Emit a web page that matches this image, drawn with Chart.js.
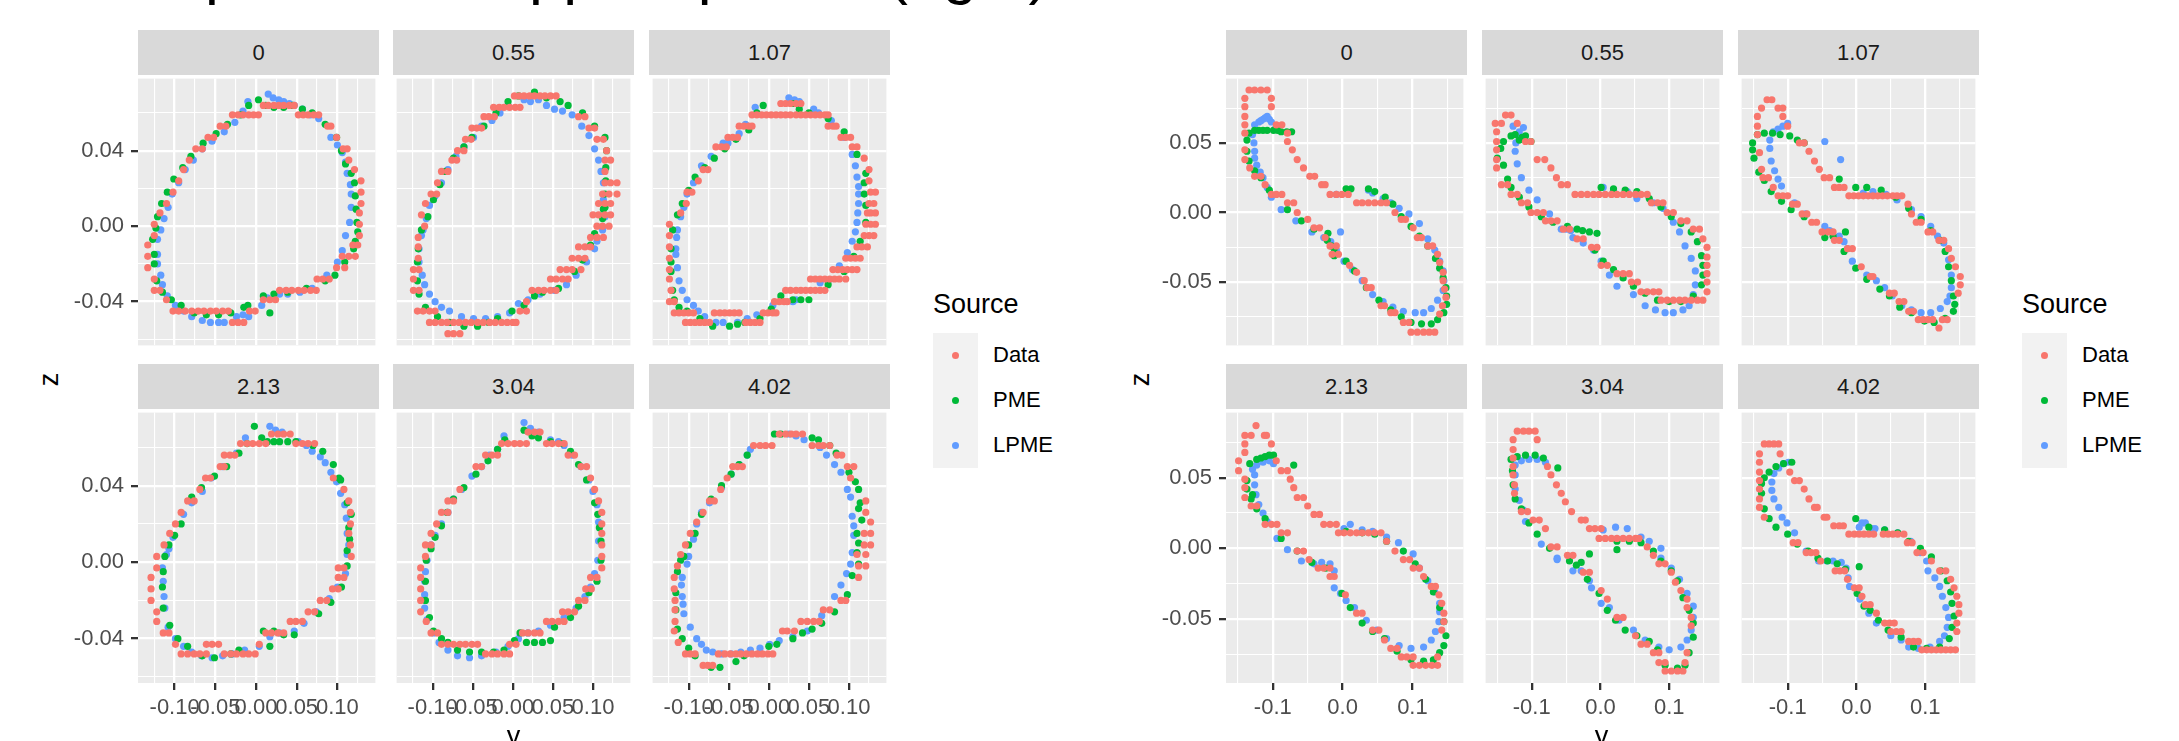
<!DOCTYPE html>
<html>
<head>
<meta charset="utf-8">
<script src="https://cdn.jsdelivr.net/npm/chart.js@4.4.1/dist/chart.umd.min.js"></script>
<style>
html, body { margin: 0; padding: 0; background: #fff; }
#page { position: relative; width: 2179px; height: 741px; overflow: hidden; font-family: "Liberation Sans", Arial, sans-serif; }
.strip { position: absolute; height: 45px; line-height: 45px; background: #D9D9D9; color: #1A1A1A; font-size: 22px; text-align: center; }
.lab { position: absolute; white-space: nowrap; color: #000; }
.keybox { position: absolute; width: 45px; height: 135px; background: #F2F2F2; }
.dot { position: absolute; width: 7px; height: 7px; border-radius: 50%; }
canvas { position: absolute; }
</style>
</head>
<body>
<div id="page"></div>
<script>
// --- categories / labels ---
const PANEL_LABELS = ['0', '0.55', '1.07', '2.13', '3.04', '4.02'];
const SOURCES = ['Data', 'PME', 'LPME'];
const COLORS = ['#F8766D', '#00BA38', '#619CFF'];

// --- tick values ---
const LEFT_X_MAJOR = [-0.1, -0.05, 0, 0.05, 0.1];
const LEFT_X_MINOR = [-0.125, -0.075, -0.025, 0.025, 0.075, 0.125];
const LEFT_Z_MAJOR = [-0.04, 0, 0.04];
const LEFT_Z_MINOR = [-0.06, -0.02, 0.02, 0.06];
const RIGHT_X_MAJOR = [-0.1, 0, 0.1];
const RIGHT_X_MINOR = [-0.15, -0.05, 0.05, 0.15];
const RIGHT_Z_MAJOR = [-0.05, 0, 0.05];
const RIGHT_Z_MINOR = [-0.075, -0.025, 0.025, 0.075];
const LEFT_X_RANGE = [-0.145, 0.1467];
const LEFT_Z_RANGE = [-0.0632, 0.0782];
const RIGHT_X_RANGE = [-0.167, 0.173];
const RIGHT_Z_RANGE = [-0.0955, 0.0962];

// --- points, in thousandths, flat pairs y,z ---
// left group
const L0_DATA = [9,64,15,64,22,64,28,64,34,64,41,64,47,64,-29,59,-22,59,-16,59,-9,59,-3,59,3,59,52,59,58,59,64,59,71,59,77,59,-44,53,-37,53,88,53,92,53,-59,47,-52,47,99,47,-74,41,-66,41,107,41,112,41,-82,35,114,35,-89,30,121,30,-95,24,129,24,-102,18,129,18,-110,12,129,12,-118,7,127,7,-125,1,127,1,-125,-5,127,-5,-133,-10,119,-10,125,-10,-133,-16,106,-16,114,-16,122,-16,-133,-22,99,-22,109,-22,-125,-28,75,-28,82,-28,90,-28,-125,-34,-118,-34,29,-34,37,-34,44,-34,52,-34,59,-34,67,-34,74,-34,-110,-39,9,-39,17,-39,24,-39,-102,-45,-95,-45,-87,-45,-79,-45,-71,-45,-64,-45,-56,-45,-49,-45,-41,-45,-34,-45,-8,-45,-1,-45,-29,-51,-22,-51,-15,-51];
const L0_PME = [3,67,-9,64,-19,59,-35,54,-49,49,-65,44,-80,37,-90,31,-101,25,-109,18,-116,12,-121,5,-123,-1,-127,-7,-125,-15,-125,-20,-122,-29,-115,-35,-104,-39,-92,-42,-76,-46,-61,-47,-46,-47,-31,-46,-15,-43,-10,-42,17,-46,9,-37,22,-36,39,-35,62,-33,85,-29,97,-26,109,-19,120,-12,122,-8,125,-3,124,2,123,9,122,16,121,23,117,28,110,33,105,40,99,47,85,54,69,60,57,62,45,64,34,63,22,63,12,64];
const L0_LPME = [15,70,21,68,28,67,34,66,41,65,47,64,-10,66,-16,61,-26,55,-39,50,-54,45,-66,41,-77,35,-87,30,-95,23,-103,17,-108,10,-113,4,-117,-2,-121,-7,-121,-15,-121,-20,-117,-26,-115,-31,-109,-37,-99,-42,-89,-45,-79,-48,-66,-50,-56,-51,-46,-51,-39,-51,-24,-48,-16,-47,-9,-48,7,-42,14,-38,29,-36,39,-36,54,-35,69,-33,87,-26,100,-19,106,-13,110,-5,115,2,117,10,117,17,116,22,112,28,110,34,106,39,100,43,92,47,77,57,67,59,57,62];
const L1_DATA = [2,69,8,69,14,69,21,69,27,69,34,69,40,69,47,69,54,69,-24,63,-17,63,-11,63,-4,63,3,63,9,63,-36,58,-30,58,-23,58,82,58,90,58,-51,52,-45,52,-39,52,95,52,102,52,-59,46,-52,46,105,46,113,46,-69,40,-61,40,117,40,-76,35,-70,35,115,35,122,35,-89,29,-81,29,115,29,-94,23,115,23,122,23,130,23,-102,17,-95,17,112,17,120,17,130,17,-109,12,107,12,115,12,122,12,-114,6,100,6,107,6,115,6,122,6,-110,0,105,0,112,0,120,0,-118,-6,97,-6,105,-6,113,-6,-118,-11,82,-11,90,-11,97,-11,-118,-17,74,-17,82,-17,90,-17,-124,-23,-117,-23,59,-23,67,-23,74,-23,85,-23,-124,-28,47,-28,54,-28,62,-28,69,-28,-124,-34,-117,-34,24,-34,32,-34,39,-34,47,-34,54,-34,17,-40,-119,-45,-112,-45,-104,-45,-97,-45,9,-45,17,-45,-104,-51,-97,-51,-89,-51,-82,-51,-74,-51,-67,-51,-59,-51,-52,-51,-44,-51,-37,-51,-29,-51,-22,-51,-14,-51,-7,-51,0,-51,4,-51,-81,-57,-74,-57,-66,-57];
const L1_PME = [27,71,42,68,59,66,69,64,87,60,102,53,115,47,117,40,116,31,116,24,115,17,115,10,113,9,112,4,102,-4,97,-10,87,-18,77,-24,57,-33,37,-35,27,-37,14,-42,-1,-45,-19,-49,-30,-51,-44,-53,-61,-53,-79,-51,-94,-48,-109,-43,-117,-36,-119,-29,-119,-19,-118,-12,-114,-2,-106,5,-99,14,-91,22,-84,29,-74,36,-61,42,-51,47,-36,53,-21,60,-6,66,7,69];
const L1_LPME = [32,67,42,64,52,62,62,61,74,59,86,53,95,48,102,41,107,35,110,29,113,23,113,14,115,5,112,-2,105,-8,102,-12,92,-19,79,-26,67,-31,52,-34,34,-36,19,-39,7,-41,-4,-46,-19,-48,-34,-49,-49,-49,-64,-48,-79,-45,-89,-43,-97,-40,-104,-36,-110,-31,-113,-26,-117,-19,-117,-12,-114,-5,-112,-2,-108,4,-104,11,-97,16,-89,23,-81,30,-71,37,-61,42,-49,47,-39,53,-26,56,-16,60,-6,64,14,67,22,66];
const L2_DATA = [15,65,21,65,27,65,34,65,40,65,-21,59,-15,59,-9,59,-3,59,3,59,9,59,15,59,21,59,27,59,34,59,40,59,46,59,52,59,58,59,64,59,70,59,74,59,-37,53,-31,53,-25,53,-21,53,74,53,80,53,84,53,-51,47,-45,47,-39,47,90,47,96,47,102,47,-66,42,-59,42,-53,42,104,42,110,42,119,36,-82,30,-76,30,125,30,-88,24,125,24,-102,18,-96,18,127,18,133,18,-103,12,125,12,131,12,-110,7,123,7,127,7,133,7,-124,1,121,1,127,1,133,1,-124,-5,119,-5,125,-5,131,-5,-124,-11,110,-11,116,-11,123,-11,-124,-17,96,-17,102,-17,108,-17,114,-17,-124,-23,80,-23,86,-23,92,-23,98,-23,104,-23,110,-23,-124,-28,52,-28,58,-28,64,-28,70,-28,76,-28,82,-28,88,-28,96,-28,-122,-34,21,-34,27,-34,34,-34,40,-34,46,-34,52,-34,58,-34,64,-34,70,-34,-124,-40,-118,-40,7,-40,13,-40,19,-40,23,-40,-118,-46,-112,-46,-106,-46,-100,-46,-94,-46,-68,-46,-61,-46,-55,-46,-49,-46,-43,-46,-37,-46,-7,-46,-1,-46,5,-46,9,-46,-104,-51,-98,-51,-92,-51,-86,-51,-80,-51,-74,-51,-29,-51,-23,-51,-17,-51,-11,-51];
const L2_PME = [-7,64,-15,60,-25,51,-41,46,-55,41,-68,36,-80,31,-92,26,-100,19,-108,12,-114,6,-120,-2,-122,-12,-122,-19,-122,-24,-120,-34,-118,-39,-112,-43,-102,-45,-86,-49,-70,-53,-49,-53,-39,-52,-30,-51,-11,-49,3,-44,15,-37,30,-39,40,-39,50,-39,74,-31,94,-24,106,-16,114,-8,121,2,121,11,119,17,119,23,121,28,110,38,94,50,74,57,50,60,38,62,30,65];
const L2_LPME = [25,68,32,67,38,66,56,62,62,60,78,56,94,47,104,38,108,32,110,26,112,21,112,17,112,12,111,7,110,2,108,-3,104,-8,98,-14,88,-21,74,-29,64,-30,34,-39,30,-40,5,-42,-15,-47,-27,-49,-39,-51,-57,-51,-66,-51,-80,-48,-88,-45,-94,-42,-102,-39,-108,-34,-112,-29,-114,-22,-116,-15,-116,-12,-115,-6,-114,-2,-110,5,-106,10,-102,17,-94,23,-84,32,-72,37,-57,44,-51,44,-37,49,-29,54,-17,63];
const L3_DATA = [19,67,27,67,34,67,42,67,-19,62,-11,62,-4,62,4,62,12,62,49,62,57,62,64,62,72,62,-39,56,-32,56,-26,56,-44,50,-39,50,-62,44,-56,44,95,44,-69,38,108,38,-84,32,-76,32,114,32,-92,26,116,26,-99,20,116,20,-106,15,114,15,-113,9,116,9,-122,3,117,3,-122,-3,101,-3,108,-3,-129,-8,101,-8,108,-8,-129,-14,94,-14,101,-14,-129,-20,79,-20,87,-20,-122,-26,64,-26,72,-26,-122,-31,42,-31,49,-31,57,-31,-114,-37,-107,-37,12,-37,19,-37,27,-37,34,-37,-99,-43,-61,-43,-54,-43,-46,-43,4,-43,-92,-48,-84,-48,-76,-48,-69,-48,-61,-48,-39,-48,-31,-48,-24,-48,-16,-48,-9,-48,-1,-48];
const L3_PME = [-2,71,7,65,14,63,22,63,29,63,39,63,49,63,70,61,82,58,95,51,102,44,104,43,112,31,117,25,114,18,115,12,112,6,112,-2,105,-13,92,-21,77,-27,47,-38,34,-38,22,-36,17,-44,9,-36,-21,-46,-31,-48,-51,-50,-66,-49,-84,-44,-96,-40,-106,-33,-114,-24,-115,-13,-114,-5,-112,3,-107,9,-100,14,-92,20,-79,34,-67,39,-51,45,-36,50,-21,57,-11,62];
const L3_LPME = [17,71,24,69,32,68,52,63,62,61,69,58,79,55,85,52,92,47,99,42,104,36,109,30,111,23,112,15,114,9,112,4,110,-6,100,-13,90,-19,74,-26,59,-32,47,-36,29,-37,17,-39,4,-44,-14,-46,-29,-48,-41,-49,-54,-50,-67,-49,-79,-47,-89,-44,-99,-40,-108,-34,-112,-24,-113,-18,-114,-10,-115,-3,-110,4,-107,7,-102,13,-89,25,-79,31,-66,37,-55,44,-41,50,-24,57,-13,65];
const L4_DATA = [19,68,27,68,34,68,-14,62,-6,62,2,62,9,62,17,62,42,62,49,62,57,62,64,62,-34,56,-26,56,-19,56,69,56,77,56,-46,50,-39,50,85,50,92,50,97,44,-66,38,102,38,-81,32,-74,32,107,32,-89,26,-81,26,111,26,-95,20,111,20,-102,15,111,15,-102,9,-109,9,111,9,-109,3,111,3,-115,-3,111,-3,-115,-8,97,-8,105,-8,-115,-14,91,-14,98,-14,-115,-20,82,-20,90,-20,-115,-26,62,-26,69,-26,77,-26,-108,-31,42,-31,49,-31,57,-31,64,-31,-102,-37,-94,-37,12,-37,19,-37,27,-37,34,-37,-89,-43,-81,-43,-74,-43,-66,-43,-59,-43,-51,-43,-44,-43,-4,-43,4,-43,-34,-48,-26,-48,-19,-48,-11,-48,-4,-48];
const L4_PME = [14,69,24,66,32,65,47,63,62,62,72,58,82,51,92,43,102,31,106,25,108,18,110,11,110,1,105,-10,95,-16,82,-23,72,-29,52,-34,47,-41,37,-42,27,-42,17,-42,9,-37,2,-41,-11,-46,-24,-47,-39,-47,-54,-47,-69,-46,-81,-42,-89,-40,-99,-36,-104,-29,-109,-20,-109,-10,-108,1,-102,7,-97,13,-89,19,-82,26,-74,33,-61,39,-46,46,-31,53,-19,59,-10,64];
const L4_LPME = [14,73,22,70,32,68,47,64,57,63,64,61,74,56,85,50,95,43,100,37,105,30,107,21,107,11,106,1,102,-6,97,-13,90,-18,79,-24,64,-29,47,-33,32,-36,19,-37,7,-40,-6,-44,-21,-47,-39,-49,-54,-50,-69,-49,-81,-46,-92,-42,-99,-37,-107,-30,-110,-24,-110,-17,-110,-10,-109,-5,-107,1,-102,9,-97,14,-89,20,-81,26,-74,33,-64,38,-51,45,-39,50,-29,56,-19,59,-11,66];
const L5_DATA = [13,67,21,67,28,67,34,67,42,67,-19,61,-11,61,-4,61,4,61,54,61,62,61,68,61,76,61,85,56,91,56,-45,50,-39,50,-33,50,98,50,106,50,-52,44,102,44,-60,38,-74,32,-68,32,121,32,-82,26,121,26,-90,21,127,21,-98,15,119,15,127,15,-104,9,119,9,127,9,-110,4,110,4,121,4,-114,-2,112,-2,121,-2,-118,-8,112,-8,-118,-14,-117,-20,90,-20,96,-20,-117,-25,68,-25,76,-25,-117,-31,40,-31,48,-31,56,-31,63,-31,-118,-36,17,-36,23,-36,32,-36,-113,-42,-104,-48,-98,-48,-92,-48,-63,-48,-55,-48,-48,-48,-41,-48,-35,-48,-28,-48,-21,-48,-14,-48,-8,-48,-1,-48,5,-48,-82,-54,-76,-54,-70,-54];
const L5_PME = [7,67,15,67,54,65,62,64,76,61,84,57,100,47,108,42,112,38,114,31,112,28,116,22,110,15,112,10,110,5,112,-1,104,-7,98,-17,82,-26,66,-32,54,-35,42,-37,30,-40,10,-43,0,-44,-31,-49,-41,-52,-61,-55,-72,-55,-92,-49,-100,-45,-108,-40,-114,-35,-116,-25,-116,-16,-114,-5,-110,1,-106,3,-100,9,-92,15,-84,25,-72,33,-59,40,-47,46,-37,51,-27,56];
const L5_LPME = [25,67,34,66,44,64,64,60,72,56,82,51,90,47,98,38,102,34,104,24,106,19,106,14,104,5,102,-1,97,-6,90,-12,82,-18,66,-28,48,-36,30,-39,13,-41,1,-43,-11,-45,-23,-46,-35,-47,-47,-48,-59,-48,-70,-47,-78,-46,-84,-43,-90,-40,-98,-34,-106,-27,-107,-22,-108,-18,-109,-12,-108,-8,-102,-1,-100,3,-94,12,-90,20,-84,26,-74,31,-59,39,-47,46,-37,51,-27,56,-23,59];

// right group
const R0_DATA = [-134,88,-126,88,-117,88,-108,88,-140,82,-102,82,-140,76,-102,76,-140,69,-140,63,-95,63,-87,63,-140,57,-79,57,-79,51,-140,45,-72,45,-140,38,-65,38,-133,32,-56,32,-126,26,-117,26,-47,26,-40,26,-111,20,-30,20,-25,20,-102,13,-95,13,-87,13,-18,13,-9,13,-1,13,8,13,-79,7,-70,7,20,7,28,7,37,7,46,7,55,7,63,7,-65,0,75,0,-50,-5,84,-5,90,-5,-41,-11,-33,-11,101,-11,-25,-18,107,-18,113,-18,-18,-24,-9,-24,122,-24,129,-24,-15,-30,-6,-30,136,-30,139,-36,10,-38,20,-43,144,-43,31,-49,144,-49,35,-54,41,-54,146,-55,148,-61,55,-67,60,-67,143,-67,69,-72,75,-72,139,-73,87,-79,95,-79,98,-86,107,-86,116,-86,124,-86,132,-86];
const R0_PME = [-137,52,-134,57,-126,59,-120,59,-114,59,-108,59,-99,59,-93,59,-88,58,-80,58,-73,58,-137,44,-134,37,-126,30,-117,25,-105,16,-79,2,-59,-6,-41,-12,-21,-15,-22,-20,-16,-24,-12,-26,-12,-31,5,-35,17,-42,34,-54,52,-63,69,-70,84,-75,98,-79,113,-80,127,-80,136,-77,145,-72,149,-66,149,-60,148,-54,144,-47,139,-40,133,-33,122,-24,110,-17,98,-10,84,-3,72,6,61,11,46,15,37,17,12,17,5,17];
const R0_LPME = [-129,56,-126,63,-120,65,-117,66,-114,67,-111,68,-108,69,-105,67,-102,65,-97,60,-127,50,-126,44,-126,39,-123,34,-118,29,-114,25,-108,18,-102,11,-88,2,-67,-6,-44,-14,-27,-18,-17,-21,-3,-14,-9,-27,2,-35,14,-41,28,-49,43,-59,58,-64,72,-68,87,-71,104,-72,116,-72,127,-69,136,-63,144,-56,145,-49,144,-42,139,-35,132,-27,122,-19,110,-8,95,-1,81,3,69,7,58,10,43,14,37,16,-9,13];
const R1_DATA = [-138,70,-130,70,-153,64,-144,64,-121,64,-151,58,-151,51,-109,51,-101,51,-151,45,-151,38,-92,38,-81,38,-151,32,-72,32,-64,25,-144,20,-135,20,-57,20,-48,20,-130,13,-121,13,-37,13,-28,13,-19,13,-10,13,-2,13,7,13,16,13,24,13,33,13,42,13,51,13,59,13,68,13,-115,7,-106,7,74,7,83,7,91,7,-101,0,-92,0,-83,0,97,0,106,0,-80,-6,-72,-6,-63,-6,117,-6,126,-6,-54,-12,-45,-12,135,-12,144,-12,-34,-19,-25,-19,149,-19,-13,-25,-5,-25,155,-25,155,-32,1,-38,10,-38,155,-38,24,-44,33,-44,42,-44,155,-44,45,-50,54,-50,155,-50,59,-57,68,-57,77,-57,85,-57,155,-57,88,-63,97,-63,106,-63,115,-63,123,-63,132,-63,141,-63,149,-63];
const R1_PME = [-150,39,-145,46,-141,51,-130,55,-124,56,-118,52,-114,54,-109,55,-101,51,-141,34,-135,24,-130,18,-118,11,-104,4,-86,-3,-69,-7,-48,-10,-34,-12,-26,-13,-16,-14,-5,-15,-8,-27,4,-35,19,-41,33,-47,48,-53,65,-58,83,-63,100,-64,117,-64,135,-60,147,-52,149,-45,149,-38,147,-31,141,-21,132,-14,117,-8,103,-3,88,4,71,10,53,15,36,16,19,17,1,18];
const R1_LPME = [-127,62,-122,56,-118,58,-112,61,-123,50,-124,44,-121,35,-115,25,-104,16,-92,9,-74,-1,-57,-12,-50,-12,-43,-13,-40,-18,-25,-22,-10,-27,1,-35,13,-45,24,-53,48,-59,65,-67,80,-70,94,-72,106,-72,120,-70,129,-67,135,-59,138,-52,138,-42,132,-33,123,-24,115,-14,106,-7,91,3,77,7,53,10,39,15,19,16,4,18];
const R2_DATA = [-130,81,-123,81,-138,75,-114,75,-107,75,-144,69,-107,69,-144,62,-100,62,-144,56,-83,50,-76,50,-141,43,-69,44,-61,37,-138,31,-54,31,-136,25,-128,25,-47,25,-39,25,-121,18,-32,18,-25,18,-18,18,-114,12,-107,12,-100,12,-11,12,-4,12,3,12,10,12,17,12,24,12,31,12,38,12,45,12,53,12,59,12,66,12,-93,6,-86,6,75,6,-79,-1,-72,-1,80,-1,-65,-7,-58,-7,87,-7,94,-7,-50,-14,-41,-14,-34,-14,104,-14,111,-14,-32,-20,-25,-20,120,-20,127,-20,-13,-26,-6,-26,134,-26,138,-33,7,-39,144,-39,20,-46,24,-46,151,-46,151,-52,48,-58,55,-58,148,-58,62,-64,69,-64,76,-71,83,-71,90,-77,97,-77,104,-77,111,-77,125,-77,132,-77,120,-83];
const R2_PME = [-151,50,-151,45,-149,39,-142,29,-134,23,-124,15,-109,8,-95,2,-76,-3,-46,-18,-34,-17,-16,-14,-18,-28,-1,-40,15,-48,34,-55,48,-60,63,-68,80,-72,99,-78,113,-79,129,-76,141,-71,143,-66,141,-60,138,-49,134,-39,129,-28,122,-20,108,-13,94,-5,76,3,57,11,36,16,15,18,-1,18,-25,24,-144,56,-134,57,-122,57,-111,56,-97,55,-86,52,-76,50];
const R2_LPME = [-121,58,-114,60,-107,62,-100,64,-126,52,-126,46,-124,37,-119,30,-114,24,-109,19,-90,7,-74,-1,-46,-10,-39,-13,-25,-17,-18,-21,-13,-26,-6,-35,15,-45,29,-49,41,-54,52,-60,66,-67,80,-70,94,-72,108,-72,122,-69,132,-64,136,-60,138,-54,138,-45,134,-34,127,-22,118,-17,108,-10,94,-3,80,2,59,9,43,13,24,15,10,14,-46,51,-23,38];
const R3_DATA = [-124,87,-140,80,-131,80,-112,80,-109,80,-140,74,-102,74,-140,68,-149,62,-95,62,-149,55,-88,55,-79,55,-140,49,-75,49,-140,43,-70,43,-140,36,-65,36,-56,36,-131,30,-123,30,-50,30,-41,24,-33,24,-111,17,-102,17,-94,17,-27,17,-18,17,-9,17,-88,11,-79,11,-6,11,2,11,11,11,20,11,28,11,37,11,46,11,55,11,63,5,-65,-2,-56,-2,75,-2,-48,-8,87,-8,96,-8,-35,-14,-27,-14,-18,-14,101,-14,110,-14,-18,-20,-12,-20,116,-20,127,-27,133,-27,4,-33,138,-33,142,-39,20,-46,28,-46,145,-46,145,-52,43,-58,52,-58,142,-58,60,-65,69,-71,78,-71,84,-77,92,-77,101,-77,136,-77,101,-83,110,-83,119,-83,128,-83,136,-83];
const R3_PME = [-133,60,-123,63,-117,64,-111,65,-105,66,-99,66,-70,59,-137,48,-137,42,-129,38,-131,35,-123,28,-111,21,-88,7,-65,-2,-44,-10,-24,-14,-1,-32,11,-42,28,-53,43,-59,60,-64,78,-73,98,-79,116,-80,130,-79,139,-74,145,-69,148,-62,145,-52,139,-42,130,-31,119,-22,104,-11,87,-2,63,5,46,10,28,11,5,12];
const R3_LPME = [-129,56,-123,59,-114,61,-105,62,-99,60,-126,52,-126,45,-124,38,-120,31,-114,25,-108,19,-94,7,-79,-1,-59,-9,-41,-11,-30,-10,-18,-11,-12,-16,-12,-28,-3,-32,5,-37,17,-42,34,-51,49,-58,63,-64,81,-69,98,-71,116,-70,127,-65,133,-59,138,-52,139,-45,139,-39,132,-31,122,-23,110,-14,101,-4,80,4,63,8,43,12,28,13,11,17,2,14];
const R4_DATA = [-121,83,-112,83,-104,83,-95,83,-127,77,-92,77,-127,70,-127,64,-127,58,-77,58,-127,52,-72,52,-125,45,-64,45,-125,39,-57,39,-51,33,-115,26,-106,26,-42,26,-98,20,-89,20,-28,20,-22,20,-80,14,-16,14,-8,14,1,14,-2,7,7,7,16,7,24,7,33,7,42,7,51,7,56,7,-72,1,-63,1,68,1,-48,-5,-40,-5,77,-5,85,-11,94,-11,-25,-17,-16,-17,103,-17,109,-24,1,-30,117,-30,10,-36,126,-36,126,-42,24,-49,33,-49,132,-49,132,-55,51,-62,59,-68,68,-68,77,-74,85,-74,126,-74,85,-81,94,-81,123,-81,94,-87,103,-87,112,-87,120,-87];
const R4_PME = [-130,63,-121,65,-109,66,-95,66,-83,64,-62,57,-128,55,-127,45,-124,35,-115,28,-104,18,-92,10,-74,0,-45,-9,-35,-12,-28,-10,-16,-4,-19,-22,-2,-32,10,-44,22,-51,36,-58,53,-62,71,-66,83,-72,94,-83,112,-85,123,-83,129,-74,135,-63,135,-53,129,-44,120,-35,112,-23,103,-16,88,-9,77,-2,59,4,42,5,24,5,24,-1];
const R4_LPME = [-124,59,-115,62,-104,63,-92,63,-80,61,-124,52,-124,42,-118,34,-112,27,-109,19,-86,3,-63,-8,-63,-7,-40,-16,-28,-16,-16,-23,-13,-28,1,-39,13,-42,27,-51,48,-58,65,-65,85,-70,100,-72,117,-70,126,-65,132,-58,135,-49,135,-41,126,-32,115,-22,103,-14,88,-7,88,0,71,5,59,8,39,14,22,15,4,13];
const R5_DATA = [-134,74,-127,74,-120,74,-113,74,-141,67,-111,67,-141,61,-141,54,-97,54,-141,48,-90,48,-83,48,-141,42,-76,42,-141,35,-69,35,-141,29,-61,29,-57,29,-134,22,-47,22,-43,22,-33,16,-25,16,-19,16,-11,10,-3,10,4,10,11,10,18,10,25,10,39,10,46,10,53,10,60,10,69,10,-92,4,-85,4,74,4,81,4,-73,-3,-66,-3,-59,-3,88,-3,97,-3,-52,-9,109,-9,-31,-16,-24,-16,-17,-16,121,-16,130,-16,-13,-22,137,-22,-3,-28,4,-28,142,-28,8,-34,146,-34,13,-40,20,-40,149,-40,29,-46,149,-46,41,-53,48,-53,55,-53,146,-53,50,-59,58,-59,65,-59,146,-59,76,-66,83,-66,90,-66,95,-72,102,-72,109,-72,116,-72,123,-72,130,-72,137,-72,144,-72];
const R5_PME = [-138,46,-134,50,-127,54,-117,58,-106,60,-94,61,-138,39,-134,28,-127,21,-117,15,-100,10,-86,3,-70,-2,-56,-7,-42,-9,-28,-11,-16,-15,4,-13,1,-32,11,-41,20,-44,32,-51,46,-58,65,-63,83,-70,102,-71,121,-70,135,-64,139,-56,142,-48,139,-39,137,-31,132,-23,123,-16,109,-6,93,0,76,5,60,11,41,13,18,15,-1,21];
const R5_LPME = [-120,53,-113,57,-106,60,-99,61,-123,47,-123,41,-120,35,-113,29,-108,22,-101,18,-90,11,-73,-2,-55,-9,-43,-9,-34,-9,-22,-10,-15,-14,-12,-21,-10,-27,5,-36,18,-46,4,15,8,18,13,18,22,14,29,-53,50,-62,65,-65,76,-70,90,-71,107,-70,121,-66,128,-62,132,-56,134,-49,130,-42,125,-34,121,-27,114,-21,104,-16,102,-9,93,-3,79,5,60,11,41,13,27,14];

const LEFT_PANELS = [[L0_DATA, L0_PME, L0_LPME], [L1_DATA, L1_PME, L1_LPME], [L2_DATA, L2_PME, L2_LPME],
                     [L3_DATA, L3_PME, L3_LPME], [L4_DATA, L4_PME, L4_LPME], [L5_DATA, L5_PME, L5_LPME]];
const RIGHT_PANELS = [[R0_DATA, R0_PME, R0_LPME], [R1_DATA, R1_PME, R1_LPME], [R2_DATA, R2_PME, R2_LPME],
                      [R3_DATA, R3_PME, R3_LPME], [R4_DATA, R4_PME, R4_LPME], [R5_DATA, R5_PME, R5_LPME]];

// --- layout ---
const FONT = '"Liberation Sans", Arial, sans-serif';
const PLOT_W = 241, PLOT_H = 274, STRIP_H = 45;
const ROW_TOP = [75, 409];
const AX_W = 80, AX_H = 50;

const page = document.getElementById('page');

function addText(txt, left, top, size, extra) {
    const d = document.createElement('div');
    d.className = 'lab';
    d.textContent = txt;
    d.style.left = left + 'px';
    d.style.top = top + 'px';
    d.style.fontSize = size + 'px';
    d.style.lineHeight = size + 'px';
    if (extra) Object.assign(d.style, extra);
    page.appendChild(d);
    return d;
}

function pairs(a) {
    const out = [];
    for (let i = 0; i < a.length; i += 2) out.push({ x: a[i] / 1000, y: a[i + 1] / 1000 });
    return out;
}

function hasVal(list, v) {
    return list.some(m => Math.abs(m - v) < 1e-9);
}

// fundo cinza do painel
const panelBg = {
    id: 'panelBg',
    beforeDraw(chart) {
        const a = chart.chartArea;
        const ctx = chart.ctx;
        ctx.save();
        ctx.fillStyle = '#EBEBEB';
        ctx.fillRect(a.left, a.top, a.right - a.left, a.bottom - a.top);
        ctx.restore();
    }
};

function axisOpts(range, major, minor, show, isX, fmt) {
    return {
        type: 'linear',
        min: range[0],
        max: range[1],
        afterBuildTicks: sc => {
            sc.ticks = major.concat(minor).sort((a, b) => a - b).map(v => ({ value: v }));
        },
        afterFit: sc => {
            if (isX) sc.height = show ? AX_H : 0;
            else sc.width = show ? AX_W : 0;
            sc.paddingLeft = 0; sc.paddingRight = 0; sc.paddingTop = 0; sc.paddingBottom = 0;
        },
        border: { display: false },
        grid: {
            color: '#FFFFFF',
            lineWidth: c => (c.tick && hasVal(major, c.tick.value)) ? 2.3 : 1.1,
            drawTicks: show,
            tickLength: 7,
            tickWidth: 2.3,
            tickColor: c => (c.tick && hasVal(major, c.tick.value)) ? '#333333' : 'rgba(0,0,0,0)'
        },
        ticks: {
            display: show,
            autoSkip: false,
            maxRotation: 0,
            minRotation: 0,
            padding: isX ? 5 : 7,
            color: '#4D4D4D',
            font: { family: FONT, size: 22 },
            callback: v => hasVal(major, v) ? fmt(v) : ''
        }
    };
}

function buildGroup(colX, panels, xr, xMaj, xMin, zr, zMaj, zMin, fmtX, fmtZ) {
    panels.forEach((series, i) => {
        const col = i % 3, row = Math.floor(i / 3);
        const px = colX[col], py = ROW_TOP[row];

        const strip = document.createElement('div');
        strip.className = 'strip';
        strip.style.left = px + 'px';
        strip.style.top = (py - STRIP_H) + 'px';
        strip.style.width = PLOT_W + 'px';
        strip.textContent = PANEL_LABELS[i];
        page.appendChild(strip);

        const showY = col === 0, showX = row === 1;
        const w = PLOT_W + (showY ? AX_W : 0);
        const h = PLOT_H + (showX ? AX_H : 0);
        const cv = document.createElement('canvas');
        cv.width = w; cv.height = h;
        cv.style.width = w + 'px'; cv.style.height = h + 'px';
        cv.style.left = (px - (showY ? AX_W : 0)) + 'px';
        cv.style.top = py + 'px';
        page.appendChild(cv);

        new Chart(cv, {
            type: 'scatter',
            data: {
                datasets: SOURCES.map((s, k) => ({
                    label: s,
                    data: pairs(series[k]),
                    backgroundColor: COLORS[k],
                    borderColor: COLORS[k],
                    borderWidth: 0,
                    pointRadius: 3.6,
                    pointHoverRadius: 3.6
                }))
            },
            options: {
                responsive: false,
                animation: false,
                events: [],
                layout: { padding: 0 },
                plugins: { legend: { display: false }, tooltip: { enabled: false } },
                scales: {
                    x: axisOpts(xr, xMaj, xMin, showX, true, fmtX),
                    y: axisOpts(zr, zMaj, zMin, showY, false, fmtZ)
                }
            },
            plugins: [panelBg]
        });
    });
}

function buildLegend(left) {
    addText('Source', left, 291, 27);
    const box = document.createElement('div');
    box.className = 'keybox';
    box.style.left = left + 'px';
    box.style.top = '333px';
    page.appendChild(box);
    SOURCES.forEach((s, k) => {
        const cy = 355 + k * 45;
        const dot = document.createElement('div');
        dot.className = 'dot';
        dot.style.left = (left + 19) + 'px';
        dot.style.top = (cy - 3.5) + 'px';
        dot.style.background = COLORS[k];
        page.appendChild(dot);
        addText(s, left + 60, cy - 11, 22);
    });
}

// titulo (cortado no topo)
addText('Comparison of upper lip data (right)', 74, -60, 62);

buildGroup([138, 393, 649], LEFT_PANELS, LEFT_X_RANGE, LEFT_X_MAJOR, LEFT_X_MINOR,
           LEFT_Z_RANGE, LEFT_Z_MAJOR, LEFT_Z_MINOR, v => v.toFixed(2), v => v.toFixed(2));
buildGroup([1226, 1482, 1738], RIGHT_PANELS, RIGHT_X_RANGE, RIGHT_X_MAJOR, RIGHT_X_MINOR,
           RIGHT_Z_RANGE, RIGHT_Z_MAJOR, RIGHT_Z_MINOR, v => v.toFixed(1), v => v.toFixed(2));

// eixos
addText('z', 36, 366, 27, { transform: 'rotate(-90deg)', width: '27px', textAlign: 'center' });
addText('z', 1127, 366, 27, { transform: 'rotate(-90deg)', width: '27px', textAlign: 'center' });
addText('y', 500, 723, 27, { width: '27px', textAlign: 'center' });
addText('y', 1588, 723, 27, { width: '27px', textAlign: 'center' });

buildLegend(933);
buildLegend(2022);
</script>
</body>
</html>
